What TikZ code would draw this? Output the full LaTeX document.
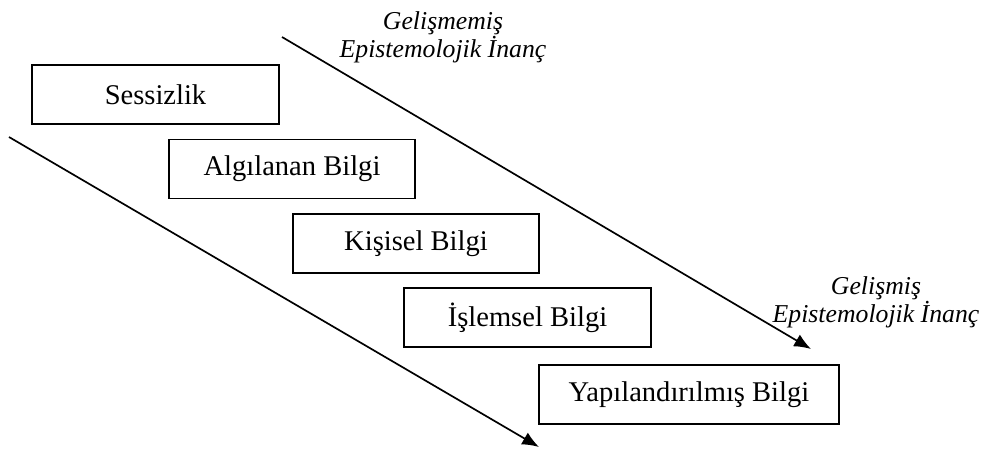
\documentclass[tikz,border=0pt]{standalone}
\usepackage{fontspec}
\setmainfont{Liberation Serif}
\usetikzlibrary{arrows.meta}

\tikzstyle{bilgi}=[draw,rectangle,line width=1.2pt,minimum height=1.48cm,inner sep=0pt,font=\fontsize{20.3}{24}\selectfont]
\tikzstyle{inanc}=[align=center,inner sep=0pt,anchor=north,font=\fontsize{18.3}{20}\selectfont\itshape]

\begin{document}
\begin{tikzpicture}[x=0.025cm,y=-0.025cm]
	\useasboundingbox (0,0) rectangle (981,452);
	\begin{scope}[>={Latex[length=0.42cm,width=0.34cm]}]
		\foreach \nr/\x/\y/\w/\txt in {1/155.5/94.5/6.16/Sessizlik, 2/292/169/6.16/Algılanan Bilgi, 3/416/243.5/6.16/Kişisel Bilgi, 4/527.5/317.5/6.16/İşlemsel Bilgi, 5/689/394.5/7.5/Yapılandırılmış Bilgi}{
			\node (B\nr)[bilgi,minimum width=\w cm] at (\x,\y) {\txt};
		}
		\node (G1)[inanc] at (443,11.5) {Gelişmemiş\\Epistemolojik İnanç};
		\node (G2)[inanc] at (876,276) {Gelişmiş\\Epistemolojik İnanç};

		\coordinate (U1) at (282,37);
		\coordinate (U2) at (811,349);
		\coordinate (L1) at (9,137);
		\coordinate (L2) at (539,447);
		\draw[->,line width=1.2pt] (U1) -- (U2);
		\draw[->,line width=1.2pt] (L1) -- (L2);
	\end{scope}
\end{tikzpicture}
\end{document}
